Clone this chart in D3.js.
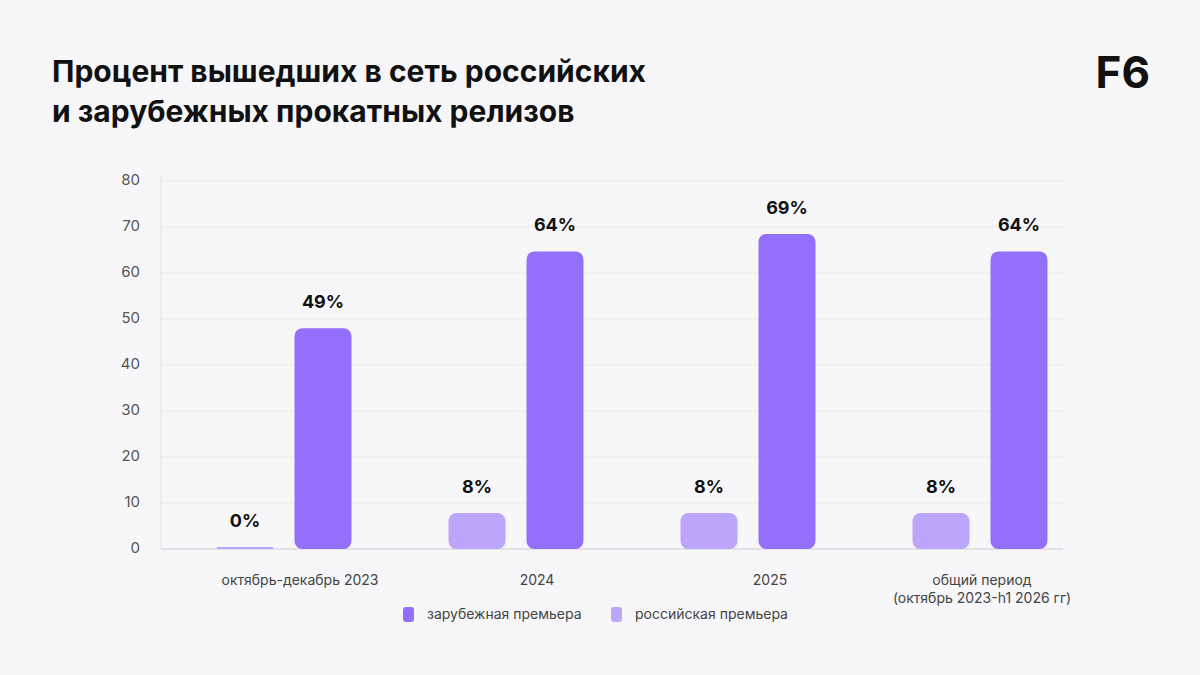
<!DOCTYPE html>
<html><head><meta charset="utf-8">
<script src="https://cdn.jsdelivr.net/npm/d3@7"></script>
<style>body{margin:0;background:#f7f7f9;font-family:Inter,"Noto Sans",sans-serif}</style>
</head><body><div id="chart"></div>
<script>
/* data */
var categories = ["октябрь-декабрь 2023", "2024", "2025", "общий период\n(октябрь 2023-h1 2026 гг)"];
var foreign = [48, 64.7, 68.5, 64.7];
var russian = [0.4, 7.8, 7.8, 7.8];
var foreignLabels = ["49%", "64%", "69%", "64%"];
var russianLabels = ["0%", "8%", "8%", "8%"];
var yTicks = [0, 10, 20, 30, 40, 50, 60, 70, 80];

var width = 1200, height = 675;
var cRus = "#bba6fb", cFor = "#9370fb";

var svg = d3.select("#chart").append("svg").attr("width", width).attr("height", height);
svg.append("rect").attr("width", width).attr("height", height).attr("fill", "#f7f7f9");

/* title */
var title = svg.append("text").attr("x", 52).attr("y", 82).style("font-size", "30px")
	.style("font-weight", 700).attr("fill", "#111");
title.append("tspan").attr("x", 52).text("Процент вышедших в сеть российских");
title.append("tspan").attr("x", 52).attr("dy", 40).text("и зарубежных прокатных релизов");
svg.append("text").attr("x", 1150).attr("y", 88).attr("text-anchor", "end")
	.style("font-size", "44px").style("font-weight", 700).attr("fill", "#111").text("F6");

/* scales */
var y = d3.scaleLinear().domain([0, 80]).range([549, 181]);
var x = d3.scaleBand().domain(categories).range([168, 1096]);

/* grid and axis */
svg.selectAll(".grid").data(yTicks).enter().append("line")
	.attr("x1", 161).attr("x2", 1063).attr("y1", d => y(d)).attr("y2", d => y(d))
	.attr("stroke", d => d === 0 ? "#e2e2e6" : "#ececf0").attr("stroke-width", d => d === 0 ? 2 : 1);
svg.append("line").attr("x1", 161).attr("x2", 161).attr("y1", 176).attr("y2", 549)
	.attr("stroke", "#e2e2e6");
svg.selectAll(".yt").data(yTicks).enter().append("text")
	.attr("x", 140).attr("y", d => y(d)).attr("text-anchor", "end").attr("dominant-baseline", "middle")
	.style("font-size", "15px").attr("fill", "#555").text(d => d);

/* bars */
var bw = 57, off = 39;
function bars(vals, labels, color, dx) {
	categories.forEach(function(c, i) {
		var cx = x(c) + x.bandwidth() / 2 + dx;
		var h = Math.max(y(0) - y(vals[i]), 2);
		svg.append("rect").attr("x", cx - bw / 2).attr("y", y(0) - h).attr("width", bw).attr("height", h)
			.attr("rx", Math.min(8, h / 2)).attr("fill", color);
		svg.append("text").attr("x", cx).attr("y", y(0) - h - 20).attr("text-anchor", "middle")
			.style("font-size", "18px").style("font-weight", 700).attr("fill", "#111").text(labels[i]);
	});
}
bars(russian, russianLabels, cRus, -off);
bars(foreign, foreignLabels, cFor, off);

/* category labels */
var labelShift = [16, 21, 22, 2];
categories.forEach(function(c, i) {
	var lx = x(c) + x.bandwidth() / 2 + labelShift[i];
	var t = svg.append("text").attr("x", lx).attr("y", 585)
		.attr("text-anchor", "middle").style("font-size", "14px").attr("fill", "#444");
	c.split("\n").forEach(function(s, j) {
		t.append("tspan").attr("x", lx).attr("dy", j ? 18 : 0).text(s);
	});
});

/* legend */
var legend = [["зарубежная премьера", cFor, 403], ["российская премьера", cRus, 611]];
legend.forEach(function(l) {
	svg.append("rect").attr("x", l[2]).attr("y", 607).attr("width", 11).attr("height", 15).attr("rx", 3).attr("fill", l[1]);
	svg.append("text").attr("x", l[2] + 24).attr("y", 615).attr("dominant-baseline", "middle")
		.style("font-size", "14px").attr("fill", "#444").text(l[0]);
});
</script></body></html>
